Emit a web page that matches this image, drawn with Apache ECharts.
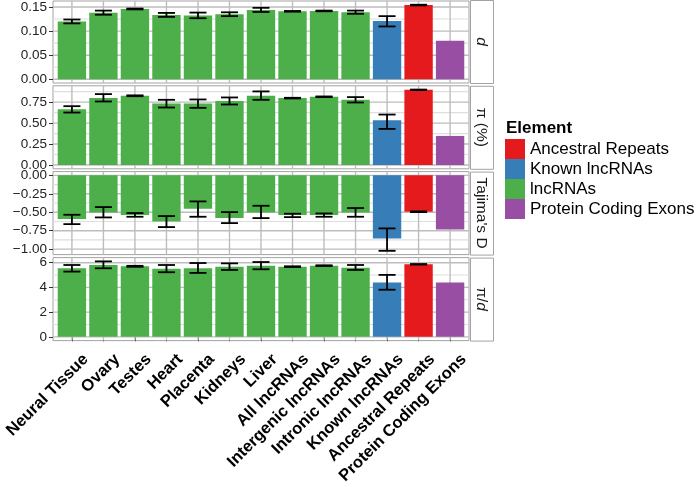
<!DOCTYPE html>
<html><head><meta charset="utf-8">
<script src="https://cdn.jsdelivr.net/npm/echarts@6/dist/echarts.min.js"></script>
<style>html,body{margin:0;padding:0;background:#fff}#c{width:697px;height:487px}</style>
</head><body><div id="c"></div>
<script>
// ---------- data ----------
const categories = ['Neural Tissue','Ovary','Testes','Heart','Placenta','Kidneys','Liver','All lncRNAs','Intergenic lncRNAs','Intronic lncRNAs','Known lncRNAs','Ancestral Repeats','Protein Coding Exons'];
const elementOf = ['lncRNAs','lncRNAs','lncRNAs','lncRNAs','lncRNAs','lncRNAs','lncRNAs','lncRNAs','lncRNAs','lncRNAs','Known lncRNAs','Ancestral Repeats','Protein Coding Exons'];
const legendOrder = ['Ancestral Repeats','Known lncRNAs','lncRNAs','Protein Coding Exons'];

const dMean  = [0.1200,0.1380,0.1459,0.1336,0.1325,0.1350,0.1440,0.1410,0.1418,0.1392,0.1212,0.1540,0.0801];
const dLow   = [0.1160,0.1340,0.1450,0.1295,0.1267,0.1310,0.1397,0.1403,0.1411,0.1360,0.1096,0.1533,null];
const dHigh  = [0.1240,0.1425,0.1468,0.1377,0.1384,0.1390,0.1483,0.1417,0.1425,0.1425,0.1310,0.1547,null];

const piMean = [0.666,0.800,0.826,0.734,0.734,0.763,0.826,0.798,0.814,0.778,0.534,0.897,0.347];
const piLow  = [0.626,0.758,0.821,0.686,0.682,0.722,0.778,0.794,0.810,0.746,0.431,0.894,null];
const piHigh = [0.702,0.846,0.831,0.778,0.782,0.806,0.878,0.802,0.818,0.810,0.602,0.900,null];

const tajMean = [-0.593,-0.502,-0.538,-0.624,-0.452,-0.579,-0.502,-0.538,-0.538,-0.502,-0.855,-0.493,-0.733];
const tajLow  = [-0.661,-0.570,-0.561,-0.701,-0.561,-0.647,-0.579,-0.566,-0.561,-0.561,-1.023,-0.498,null];
const tajHigh = [-0.534,-0.430,-0.511,-0.552,-0.353,-0.498,-0.412,-0.520,-0.516,-0.443,-0.719,-0.488,null];

const ratioMean = [5.547,5.813,5.707,5.520,5.547,5.680,5.760,5.680,5.760,5.600,4.400,5.867,4.400];
const ratioLow  = [5.280,5.547,5.667,5.227,5.173,5.413,5.467,5.650,5.730,5.413,3.813,5.847,null];
const ratioHigh = [5.813,6.107,5.747,5.813,5.973,5.947,6.053,5.710,5.790,5.813,5.013,5.887,null];

const dTicks = [0,0.05,0.10,0.15],           dMinor = [0.025,0.075,0.125];
const piTicks = [0,0.25,0.5,0.75],           piMinor = [0.125,0.375,0.625,0.875];
const tajTicks = [-1,-0.75,-0.5,-0.25,0],    tajMinor = [-0.875,-0.625,-0.375,-0.125];
const ratioTicks = [0,2,4,6],                ratioMinor = [1,3,5];

const dLabels = ['0.00','0.05','0.10','0.15'];
const piLabels = ['0.00','0.25','0.50','0.75'];
const tajLabels = ['\u22121.00','\u22120.75','\u22120.50','\u22120.25','0.00'];
const ratioLabels = ['0','2','4','6'];

const stripTexts = ['{i|d}','{n|\u03c0 (%)}',"{n|Tajima's D}",'{n|\u03c0/}{i|d}'];

// ---------- styles / layout ----------
const colors = {'Ancestral Repeats':'#E41A1C','Known lncRNAs':'#377EB8','lncRNAs':'#4DAF4A','Protein Coding Exons':'#984EA3'};
const FONT = "'Liberation Sans', Arial, Helvetica, sans-serif";
const panelLeft = 53, panelWidth = 416, panelHeight = 83;
const panelTops = [0, 85.8, 171.6, 257.6];
const stripW = 23;
const majorGrid = '#bdbdbd', minorGrid = '#dedede', borderCol = '#a3a3a3';

const panels = [
  {mean:dMean, low:dLow, high:dHigh, ticks:dTicks, minor:dMinor, labels:dLabels},
  {mean:piMean, low:piLow, high:piHigh, ticks:piTicks, minor:piMinor, labels:piLabels},
  {mean:tajMean, low:tajLow, high:tajHigh, ticks:tajTicks, minor:tajMinor, labels:tajLabels},
  {mean:ratioMean, low:ratioLow, high:ratioHigh, ticks:ratioTicks, minor:ratioMinor, labels:ratioLabels}
];

const xPos = categories.map((c, i) => i + 1);

function rangeOf(p) {
  const vals = [0].concat(p.mean, p.low.filter(v => v != null), p.high.filter(v => v != null));
  const mn = Math.min.apply(null, vals), mx = Math.max.apply(null, vals);
  const pad = (mx - mn) * 0.05;
  return [mn - pad, mx + pad];
}

function renderErr(params, api) {
  const x = api.value(0);
  const lo = api.coord([x, api.value(1)]);
  const hi = api.coord([x, api.value(2)]);
  const hw = api.size([1, 0])[0] * 0.27;
  const st = {stroke: '#000', lineWidth: 1.8, fill: null};
  return {type: 'group', children: [
    {type: 'line', shape: {x1: hi[0], y1: hi[1], x2: lo[0], y2: lo[1]}, style: st},
    {type: 'line', shape: {x1: hi[0] - hw, y1: hi[1], x2: hi[0] + hw, y2: hi[1]}, style: st},
    {type: 'line', shape: {x1: lo[0] - hw, y1: lo[1], x2: lo[0] + hw, y2: lo[1]}, style: st}
  ]};
}

function renderHLine(params, api) {
  const cs = params.coordSys;
  const y = api.coord([1, api.value(0)])[1];
  const major = api.value(1) > 0.5;
  return {type: 'line', shape: {x1: cs.x, y1: y, x2: cs.x + cs.width, y2: y},
    style: {stroke: major ? majorGrid : minorGrid, lineWidth: major ? 1.4 : 1.1}};
}
function renderVLine(params, api) {
  const cs = params.coordSys;
  const x = api.coord([api.value(0), 1])[0];
  return {type: 'line', shape: {x1: x, y1: cs.y, x2: x, y2: cs.y + cs.height},
    style: {stroke: majorGrid, lineWidth: 1.4}};
}

const grid = [], xAxis = [], yAxis = [], series = [], graphic = [];

panels.forEach((p, k) => {
  const r = rangeOf(p);
  const isBottom = k === panels.length - 1;
  grid.push({left: panelLeft, top: panelTops[k], width: panelWidth, height: panelHeight,
    show: true, backgroundColor: 'rgba(0,0,0,0)', borderColor: borderCol, borderWidth: 1});
  xAxis.push({type: 'value', gridIndex: k, min: 0.4, max: categories.length + 0.6,
    splitLine: {show: false}, axisLine: {show: false},
    axisTick: {show: isBottom, customValues: xPos, length: 4.5, lineStyle: {color: '#333', width: 1}},
    axisLabel: {show: isBottom, customValues: xPos, rotate: 45, align: 'right', verticalAlign: 'top',
      margin: 2.5, padding: [11, 0, 0, 0], fontSize: 16.5, fontWeight: 'bold', color: '#000', fontFamily: FONT,
      formatter: v => categories[Math.round(v) - 1]}});
  yAxis.push({type: 'value', gridIndex: k, min: r[0], max: r[1],
    splitLine: {show: false}, axisLine: {show: false},
    axisTick: {show: true, customValues: p.ticks, length: 4, lineStyle: {color: '#333', width: 1}},
    axisLabel: {customValues: p.ticks, margin: 6, fontSize: 13.5, color: '#222', fontFamily: FONT,
      formatter: v => { const i = p.ticks.findIndex(t => Math.abs(t - v) < 1e-9); return i >= 0 ? p.labels[i] : ''; }}});

  // panel grid lines through the panel's own scales; drawn before (below) the bars
  const hData = p.minor.map(v => [v, 0]).concat(p.ticks.map(v => [v, 1]));
  series.push({type: 'custom', name: 'hgrid' + k, xAxisIndex: k, yAxisIndex: k, data: hData,
    encode: {y: 0, x: 1}, z: 5, silent: true, renderItem: renderHLine});
  series.push({type: 'custom', name: 'vgrid' + k, xAxisIndex: k, yAxisIndex: k, data: xPos.map(v => [v, 1]),
    encode: {x: 0, y: 1}, z: 5, silent: true, renderItem: renderVLine});

  legendOrder.forEach(el => {
    const data = [];
    categories.forEach((c, i) => { if (elementOf[i] === el) data.push([xPos[i], p.mean[i]]); });
    series.push({type: 'bar', name: el, xAxisIndex: k, yAxisIndex: k, data: data,
      barWidth: '90%', barGap: '-100%', z: 6, itemStyle: {color: colors[el]}, silent: true});
  });

  const errData = [];
  categories.forEach((c, i) => { if (p.low[i] != null) errData.push([xPos[i], p.low[i], p.high[i]]); });
  series.push({type: 'custom', name: 'err' + k, xAxisIndex: k, yAxisIndex: k, data: errData,
    encode: {x: 0, y: [1, 2]}, renderItem: renderErr, z: 7, silent: true});

  // facet strip
  graphic.push({type: 'rect', left: panelLeft + panelWidth + 1, top: panelTops[k],
    shape: {width: stripW, height: panelHeight}, style: {fill: '#fff', stroke: borderCol, lineWidth: 1}, silent: true});
  graphic.push({type: 'text', x: panelLeft + panelWidth + 1 + stripW / 2, y: panelTops[k] + panelHeight / 2,
    rotation: -Math.PI / 2, silent: true,
    style: {text: stripTexts[k], textAlign: 'center', textVerticalAlign: 'middle', fill: '#1a1a1a',
      fontSize: 15.5, fontFamily: FONT,
      rich: {i: {fontStyle: 'italic', fontSize: 15.5, fontFamily: FONT, fill: '#1a1a1a'},
             n: {fontSize: 15.5, fontFamily: FONT, fill: '#1a1a1a'}}}});
});

const chart = echarts.init(document.getElementById('c'), null, {renderer: 'canvas'});
chart.setOption({
  animation: false,
  backgroundColor: '#fff',
  title: {text: 'Element', left: 506, top: 119.5, padding: 0,
    textStyle: {fontSize: 17, fontWeight: 'bold', color: '#000', fontFamily: FONT}},
  legend: {orient: 'vertical', left: 505, top: 139, padding: 0, itemWidth: 20, itemHeight: 20, itemGap: 0,
    icon: 'rect', selectedMode: false, data: legendOrder,
    textStyle: {fontSize: 17, color: '#000', fontFamily: FONT}},
  grid: grid, xAxis: xAxis, yAxis: yAxis, series: series, graphic: graphic
});
</script></body></html>
